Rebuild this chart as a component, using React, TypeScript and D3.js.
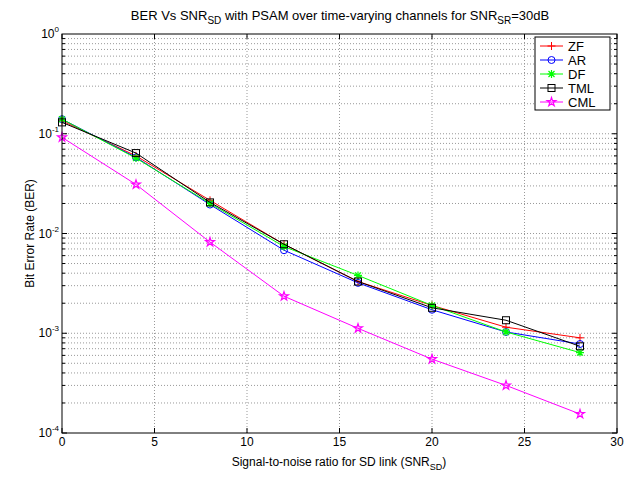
import React from "react";
import * as d3 from "d3";

// SNR_SD values (dB) where each curve was simulated
const snr = [0, 4, 8, 12, 16, 20, 24, 28];

// BER per detector
const berZF = [0.135, 0.06, 0.0215, 0.0078, 0.0033, 0.0019, 0.00115, 0.0009];
const berAR = [0.14, 0.058, 0.0195, 0.0068, 0.0032, 0.00172, 0.00103, 0.00078];
const berDF = [0.14, 0.057, 0.02, 0.0074, 0.0038, 0.0019, 0.00103, 0.00064];
const berTML = [0.13, 0.064, 0.0205, 0.0078, 0.0033, 0.0018, 0.00135, 0.00074];
const berCML = [0.092, 0.031, 0.0082, 0.00235, 0.00112, 0.00055, 0.0003, 0.000155];

const xTicks = [0, 5, 10, 15, 20, 25, 30];
const yExponents = [0, -1, -2, -3, -4];

const names = ["ZF", "AR", "DF", "TML", "CML"];
const colors = ["#ff0000", "#0000ff", "#00ff00", "#000000", "#ff00ff"];
const markers = ["plus", "circle", "asterisk", "square", "star"];
const values = [berZF, berAR, berDF, berTML, berCML];

const W = 624;
const H = 477;
const margin = { left: 62, right: 7, top: 34, bottom: 44 };
const font = "Liberation Sans, Arial, sans-serif";

const Marker = ({ kind, x, y, color }: { kind: string; x: number; y: number; color: string }) => {
  const s = 4;
  if (kind === "plus")
    return (
      <path d={`M${x - s},${y}H${x + s}M${x},${y - s}V${y + s}`} stroke={color} strokeWidth={1} fill="none" />
    );
  if (kind === "circle") return <circle cx={x} cy={y} r={3.5} stroke={color} strokeWidth={1} fill="none" />;
  if (kind === "asterisk")
    return (
      <path
        d={`M${x - s},${y}H${x + s}M${x},${y - s}V${y + s}M${x - 3},${y - 3}L${x + 3},${y + 3}M${x - 3},${y + 3}L${x + 3},${y - 3}`}
        stroke={color}
        strokeWidth={1.2}
        fill="none"
      />
    );
  if (kind === "square")
    return <rect x={x - 3.5} y={y - 3.5} width={7} height={7} stroke={color} strokeWidth={1} fill="none" />;
  const star = d3.symbol().type(d3.symbolStar).size(24)();
  return <path d={star || ""} transform={`translate(${x},${y})`} stroke={color} strokeWidth={1.2} fill="none" />;
};

export default function App() {
  const x = d3.scaleLinear().domain([0, 30]).range([margin.left, W - margin.right]);
  const y = d3.scaleLog().domain([1e-4, 1]).range([H - margin.bottom, margin.top]);
  const [x0, x1] = x.range();
  const [y0, y1] = y.range();

  const minor: number[] = [];
  for (let e = -4; e < 0; e++) for (let m = 1; m <= 9; m++) minor.push(m * Math.pow(10, e));

  const line = d3
    .line<number>()
    .x((_, i) => x(snr[i]))
    .y((d) => y(d));

  const lx = 535;
  const ly = 37;

  return (
    <svg
      width={W}
      height={H}
      style={{ position: "absolute", left: 0, top: 0, background: "#fff" }}
      fontFamily={font}
    >
      <rect width={W} height={H} fill="#fff" />
      {/* grid */}
      {xTicks.slice(1, -1).map((t) => (
        <line key={"gx" + t} x1={x(t)} x2={x(t)} y1={y0} y2={y1} stroke="#999" strokeDasharray="1,2" />
      ))}
      {minor.slice(1).map((v) => (
        <line key={"gy" + v} x1={x0} x2={x1} y1={y(v)} y2={y(v)} stroke="#999" strokeDasharray="1,2" />
      ))}
      {/* ticks */}
      {xTicks.map((t) => (
        <g key={"tx" + t}>
          <line x1={x(t)} x2={x(t)} y1={y0} y2={y0 - 5} stroke="#000" />
          <line x1={x(t)} x2={x(t)} y1={y1} y2={y1 + 5} stroke="#000" />
          <text x={x(t)} y={y0 + 13} textAnchor="middle" fontSize={12}>
            {t}
          </text>
        </g>
      ))}
      {minor.map((v) => {
        const major = Math.abs(Math.log10(v) - Math.round(Math.log10(v))) < 1e-9;
        const len = major ? 5 : 3;
        return (
          <g key={"ty" + v}>
            <line x1={x0} x2={x0 + len} y1={y(v)} y2={y(v)} stroke="#000" />
            <line x1={x1} x2={x1 - len} y1={y(v)} y2={y(v)} stroke="#000" />
          </g>
        );
      })}
      {yExponents.map((e) => (
        <text key={"ly" + e} x={x0 - 3} y={y(Math.pow(10, e)) + 4} textAnchor="end" fontSize={12}>
          10
          <tspan fontSize={8} dy={-6}>
            {e === 0 ? "0" : "-" + Math.abs(e)}
          </tspan>
        </text>
      ))}
      {/* series */}
      {values.map((vals, k) => (
        <g key={names[k]}>
          <path d={line(vals) || ""} fill="none" stroke={colors[k]} strokeWidth={1} />
          {vals.map((v, i) => (
            <Marker key={i} kind={markers[k]} x={x(snr[i])} y={y(v)} color={colors[k]} />
          ))}
        </g>
      ))}
      {/* box */}
      <rect x={x0} y={y1} width={x1 - x0} height={y0 - y1} fill="none" stroke="#000" />
      {/* legend */}
      <rect x={lx} y={ly} width={75} height={73} fill="#fff" stroke="#000" />
      {names.map((n, k) => {
        const yy = ly + 9 + k * 14;
        return (
          <g key={"lg" + n}>
            <line x1={lx + 5} x2={lx + 28} y1={yy} y2={yy} stroke={colors[k]} />
            <Marker kind={markers[k]} x={lx + 16.5} y={yy} color={colors[k]} />
            <text x={lx + 33} y={yy + 4.5} fontSize={13}>
              {n}
            </text>
          </g>
        );
      })}
      {/* title and labels */}
      <text x={340} y={20} textAnchor="middle" fontSize={13}>
        BER Vs SNR
        <tspan fontSize={10} dy={4}>SD</tspan>
        <tspan dy={-4}> with PSAM over time-varying channels for SNR</tspan>
        <tspan fontSize={10} dy={4}>SR</tspan>
        <tspan dy={-4}>=30dB</tspan>
      </text>
      <text x={339} y={466} textAnchor="middle" fontSize={12}>
        Signal-to-noise ratio for SD link (SNR
        <tspan fontSize={9} dy={4}>SD</tspan>
        <tspan dy={-4}>)</tspan>
      </text>
      <text transform={`translate(34,${(y0 + y1) / 2}) rotate(-90)`} textAnchor="middle" fontSize={12}>
        Bit Error Rate (BER)
      </text>
    </svg>
  );
}
